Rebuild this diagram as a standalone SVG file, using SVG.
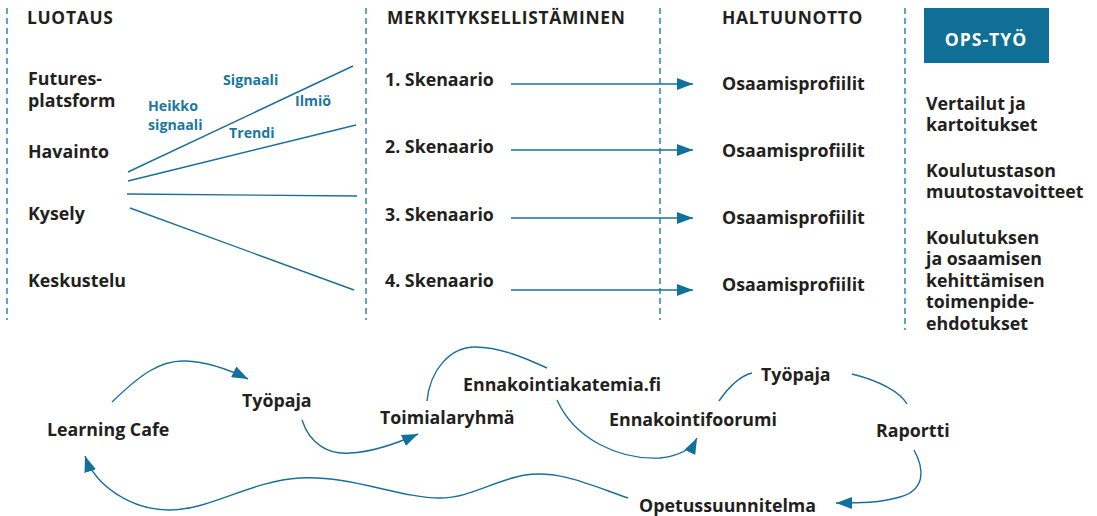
<svg xmlns="http://www.w3.org/2000/svg" width="1097" height="516" viewBox="0 0 1097 516">
<defs>
<style>
text{font-family:"Open Sans","DejaVu Sans",sans-serif;font-weight:700;fill:#231f20;font-size:17.8px}
.h{font-size:17.4px;letter-spacing:0.7px}
.b{fill:#1a77a0;font-size:14.2px}
.w{fill:#ffffff;font-size:17.6px;letter-spacing:1px}
.dash{stroke:#3a8cb3;stroke-width:1.6;stroke-dasharray:6 4;fill:none}
.ln{stroke:#1a6f98;stroke-width:1.4;fill:none}
</style>
<marker id="ah" markerUnits="userSpaceOnUse" markerWidth="16" markerHeight="12" refX="16" refY="6" orient="auto" viewBox="0 0 16 12">
<path d="M0,0 L16,6 L0,12 z" fill="#10719c"/>
</marker>
</defs>
<rect width="1097" height="516" fill="#ffffff"/>
<g id="columns">
<line class="dash" x1="7" y1="8" x2="7" y2="320"/>
<line class="dash" x1="366" y1="8" x2="366" y2="320"/>
<line class="dash" x1="660" y1="8" x2="660" y2="320"/>
<line class="dash" x1="905" y1="8" x2="905" y2="330"/>
</g>
<g id="headings">
<text class="h" x="27" y="24">LUOTAUS</text>
<text class="h" x="387" y="24">MERKITYKSELLISTÄMINEN</text>
<text class="h" x="722" y="24">HALTUUNOTTO</text>
</g>
<g id="ops-tyo">
<rect x="924" y="8" width="125" height="55" fill="#0f6f97"/>
<text class="w" x="986" y="46" text-anchor="middle">OPS-TYÖ</text>
</g>
<g id="connectors">
<line class="ln" x1="128" y1="172" x2="353" y2="66"/>
<line class="ln" x1="128" y1="181" x2="356" y2="125"/>
<line class="ln" x1="127" y1="194" x2="357" y2="196"/>
<line class="ln" x1="130" y1="208" x2="354" y2="290"/>
<line class="ln" x1="511" y1="84" x2="693" y2="84" marker-end="url(#ah)"/>
<line class="ln" x1="511" y1="150" x2="693" y2="150" marker-end="url(#ah)"/>
<line class="ln" x1="511" y1="218" x2="693" y2="218" marker-end="url(#ah)"/>
<line class="ln" x1="511" y1="290" x2="693" y2="290" marker-end="url(#ah)"/>
<path class="ln" d="M112,402 C140,375 160,360 185,361 C210,362 230,370 248,379" marker-end="url(#ah)"/>
<path class="ln" d="M302,420 C310,445 330,455 350,453 C375,452 400,442 418,434" marker-end="url(#ah)"/>
<path class="ln" d="M427,401 C430,370 450,347 475,347 C500,347 525,358 547,368"/>
<path class="ln" d="M557,400 C575,440 620,460 660,458 C680,456 692,448 697,438" marker-end="url(#ah)"/>
<path class="ln" d="M719,401 C728,388 740,376 752,373"/>
<path class="ln" d="M852,374 C880,381 900,392 907,404"/>
<path class="ln" d="M914,450 C925,470 925,490 900,497 C880,503 860,503 836,503" marker-end="url(#ah)"/>
<path class="ln" d="M628,498 C590,485 560,470 525,475 C495,480 470,498 440,498 C400,498 350,475 300,478 C250,481 210,510 170,510 C130,510 95,485 85,456" marker-end="url(#ah)"/>
</g>
<g id="luotaus-sources">
<text x="28" y="85">Futures-</text>
<text x="28" y="107">platsform</text>
<text x="28" y="158">Havainto</text>
<text x="28" y="220">Kysely</text>
<text x="28" y="287">Keskustelu</text>
</g>
<g id="signal-labels">
<text class="b" x="223" y="85">Signaali</text>
<text class="b" x="295" y="106">Ilmiö</text>
<text class="b" x="148" y="111">Heikko</text>
<text class="b" x="148" y="130">signaali</text>
<text class="b" x="229" y="138">Trendi</text>
</g>
<g id="skenaariot">
<text x="385" y="86">1. Skenaario</text>
<text x="385" y="153">2. Skenaario</text>
<text x="385" y="221">3. Skenaario</text>
<text x="385" y="287">4. Skenaario</text>
</g>
<g id="osaamisprofiilit">
<text x="722" y="90">Osaamisprofiilit</text>
<text x="722" y="157">Osaamisprofiilit</text>
<text x="722" y="224">Osaamisprofiilit</text>
<text x="722" y="291">Osaamisprofiilit</text>
</g>
<g id="ops-items">
<text x="926" y="110">Vertailut ja</text>
<text x="926" y="131">kartoitukset</text>
<text x="926" y="177">Koulutustason</text>
<text x="926" y="198">muutostavoitteet</text>
<text x="926" y="244">Koulutuksen</text>
<text x="926" y="265">ja osaamisen</text>
<text x="926" y="287">kehittämisen</text>
<text x="926" y="308">toimenpide-</text>
<text x="926" y="330">ehdotukset</text>
</g>
<g id="learning-cafe"><text x="47" y="436">Learning Cafe</text></g>
<g id="tyopaja-1"><text x="242" y="407">Työpaja</text></g>
<g id="toimialaryhma"><text x="380" y="424">Toimialaryhmä</text></g>
<g id="ennakointiakatemia"><text x="463" y="391">Ennakointiakatemia.fi</text></g>
<g id="ennakointifoorumi"><text x="609" y="426">Ennakointifoorumi</text></g>
<g id="tyopaja-2"><text x="761" y="381">Työpaja</text></g>
<g id="raportti"><text x="876" y="437">Raportti</text></g>
<g id="opetussuunnitelma"><text x="639" y="512">Opetussuunnitelma</text></g>
</svg>
